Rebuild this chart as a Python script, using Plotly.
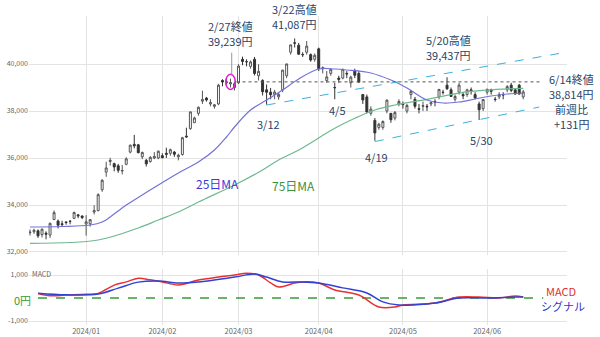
import plotly.graph_objects as go

# ---------------- data ----------------
dates = ["12/12","12/13","12/14","12/15","12/18","12/19","12/20","12/21","12/22","12/25","12/26","12/27","12/28","12/29",
         "1/4","1/5","1/9","1/10","1/11","1/12","1/15","1/16","1/17","1/18","1/19","1/22","1/23","1/24","1/25","1/26","1/29","1/30","1/31",
         "2/1","2/2","2/5","2/6","2/7","2/8","2/9","2/13","2/14","2/15","2/16","2/19","2/20","2/21","2/22","2/26","2/27","2/28","2/29",
         "3/1","3/4","3/5","3/6","3/7","3/8","3/11","3/12","3/13","3/14","3/15","3/18","3/19","3/21","3/22","3/25","3/26","3/27","3/28","3/29",
         "4/1","4/2","4/3","4/4","4/5","4/8","4/9","4/10","4/11","4/12","4/15","4/16","4/17","4/18","4/19","4/22","4/23","4/24","4/25","4/26","4/30",
         "5/1","5/2","5/7","5/8","5/9","5/10","5/13","5/14","5/15","5/16","5/17","5/20","5/21","5/22","5/23","5/24","5/27","5/28","5/29","5/30","5/31",
         "6/3","6/4","6/5","6/6","6/7","6/10","6/11","6/12","6/13","6/14"]

opens = [32820,32860,32900,32740,32800,32720,33380,33320,33200,33280,33310,33430,33580,33530,
         33193,33200,33700,33760,34650,35400,35850,35760,35670,35450,35730,36250,36580,36560,36050,35900,35850,36000,36000,
         36100,36200,36200,36250,36050,36150,36930,37250,37500,37900,38420,38550,38300,38200,38300,39300,39200,39150,39000,
         39200,40200,40100,39900,40200,39500,39300,38900,38800,38700,38600,38900,39500,40500,40900,40800,40400,40500,40400,40200,
         40646,39800,39300,39600,39000,39400,39400,39600,39200,39700,39600,38700,38600,37900,37600,37300,37300,38000,37900,37700,38300,
         38300,38000,38700,38500,38100,38200,38200,38300,38400,38600,38800,39100,38900,38500,38800,38700,38700,38900,38700,38300,38100,
         38800,38900,38500,38600,38700,38900,39100,38900,39100,38600]
highs = [32960,32990,32960,33000,32880,33250,33770,33380,33330,33300,33340,33720,33610,33560,
         33568,33400,33990,34500,35100,35840,36008,35800,35750,35700,36030,36570,36984,36600,36270,35960,36080,36250,36320,
         36200,36440,36400,36300,36180,36900,37290,37960,37760,38190,38865,38600,38500,38300,39156,39350,39426,39380,39250,
         39990,40314,40200,40150,40300,39989,39350,39130,38980,38900,38800,39750,40010,40815,41087,40900,40500,40979,40450,40450,
         40697,39900,39700,39800,39200,39500,39800,39700,39500,39800,39700,38700,38700,38200,37700,37500,37600,38500,37900,38000,38500,
         38400,38300,38900,38600,38300,38400,38300,38400,38500,38900,38900,39437,39000,38700,39200,38800,38950,39000,38800,38400,38500,
         38950,38950,38600,38800,38800,39100,39200,38950,39150,38900]
lows = [32700,32770,32600,32620,32540,32600,33370,33000,33080,33160,33180,33400,33440,33400,
        32693,33080,33600,33730,34560,35200,35680,35430,35370,35300,35690,36200,36410,36200,35950,35640,35800,35950,35950,
        35990,36000,36100,36050,35900,36100,36870,37200,37500,37800,38300,38400,38200,38100,38250,39050,39100,39000,38880,
        39150,39950,39900,39800,39512,39300,38660,38271,38500,38500,38480,38800,39400,40400,40700,40400,40300,40400,40100,40100,
        39700,39600,39200,39500,38500,39200,39350,39400,39000,39400,39200,38300,37900,37800,36733,37200,37200,37900,37500,37600,38200,
        38100,37900,38500,38100,37900,38000,38000,38200,38200,38500,38700,38900,38600,38400,38700,38500,38600,38700,38500,37617,38000,
        38700,38700,38400,38500,38500,38800,38800,38700,38700,38500]
closes = [32843,32926,32686,32970,32758,33219,33675,33140,33169,33254,33305,33681,33540,33464,
          33288,33377,33763,34441,35049,35577,35901,35619,35477,35466,35963,36546,36517,36226,36236,35751,36026,36065,36287,
          36011,36158,36354,36160,36119,36863,36897,37963,37703,38157,38487,38470,38363,38262,39098,39233,39239,39208,39166,
          39910,40109,40097,40090,39598,39688,38820,38797,38695,38807,38707,39740,40003,40815,40888,40414,40398,40762,40168,40369,
          39803,39838,39451,39773,38992,39347,39773,39581,39442,39523,39232,38471,37961,38079,37068,37438,37552,38460,37628,37934,38405,
          38274,38236,38835,38202,38073,38229,38179,38356,38385,38920,38787,38946,38617,38617,39103,38646,38900,38855,38556,38054,38487,
          38923,38837,38490,38703,38683,39038,38876,38720,38720,38814]

# moving averages read at sample trading days (day number from 12/12)
ma25_day = [0, 8, 15, 18, 20, 24, 28, 32, 37, 42, 46, 49, 51, 55, 59, 63, 67, 72, 76, 79, 85, 90, 94, 99, 103, 107, 111, 115, 119, 123]
ma25_val = [33064, 33085, 33149, 33277, 33489, 34000, 34426, 34851, 35362, 35830, 36340, 36894, 37319, 38043, 38468,
            38894, 39362, 39787, 39787, 39745, 39617, 39319, 38979, 38468, 38340, 38383, 38511, 38638, 38723, 38766]
ma75_day = [0, 17, 27, 32, 37, 42, 51, 58, 62, 67, 76, 81, 86, 91, 99, 109, 114, 123]
ma75_val = [32370, 32511, 33021, 33362, 33702, 34128, 34851, 35489, 35915, 36340, 37264, 37689, 38043, 38255, 38498, 38821, 38894, 38966]

# MACD panel
macd_day = [2, 5, 9, 14, 17, 21, 24, 27, 30, 33, 37, 42, 47, 51, 54, 57, 60, 62, 66, 68, 72, 76, 82, 87, 91, 93, 101, 107, 112, 117, 121, 123]
macd_val = [200, 100, 130, 160, 200, 560, 700, 860, 790, 700, 570, 780, 910, 1000, 1080, 1000, 660, 480, 650, 700, 650, 350,
            130, -390, -390, -300, -220, 40, 40, 0, 90, 40]
sig_day = [2, 9, 17, 22, 27, 32, 37, 42, 51, 56, 59, 63, 68, 72, 78, 84, 88, 92, 101, 107, 114, 121, 123]
sig_val = [210, 140, 170, 430, 690, 740, 650, 700, 910, 1040, 910, 700, 700, 650, 440, 220, -170, -300, -220, 0, 0, 40, 40]

# trend channel (day, value) pairs and reference level
upper_ch_day = [59, 135]
upper_ch_val = [38255, 40540]
lower_ch_day = [86, 127]
lower_ch_val = [36700, 38170]
ref_level_day = [51.5, 127.5]
ref_level_val = [39239, 39239]

month_labels = ["2024/01", "2024/02", "2024/03", "2024/04", "2024/05", "2024/06"]
month_first = ["1/4", "2/1", "3/1", "4/1", "5/1", "6/3"]
price_ticks = [32000, 34000, 36000, 38000, 40000]
macd_ticks = [-1000, 1000]

# ---------------- figure ----------------
W, H = 600, 337
ML, MR, MT, MB = 29, 33, 16, 12
PW, PH = W - ML - MR, H - MT - MB
XMIN = -0.25
XMAX = XMIN + PW / 4.01

FONT = "Noto Sans CJK JP, Noto Sans, sans-serif"
TXT = "#2b4468"
GRID = "#e3e3e3"

xs = list(range(len(dates)))
tickpos = [dates.index(d) for d in month_first]

fig = go.Figure()
fig.add_trace(go.Candlestick(
    x=xs, open=opens, high=highs, low=lows, close=closes,
    increasing=dict(line=dict(color="#555555", width=1), fillcolor="#ffffff"),
    decreasing=dict(line=dict(color="#333333", width=1), fillcolor="#333333"),
    whiskerwidth=0, xaxis="x", yaxis="y", showlegend=False, hoverinfo="skip"))

fig.add_trace(go.Scatter(x=ma75_day, y=ma75_val, mode="lines", line=dict(color="#6fb890", width=1.2, shape="spline"),
                         xaxis="x", yaxis="y", showlegend=False))
fig.add_trace(go.Scatter(x=ma25_day, y=ma25_val, mode="lines", line=dict(color="#7272d8", width=1.2, shape="spline"),
                         xaxis="x", yaxis="y", showlegend=False))

fig.add_trace(go.Scatter(x=ref_level_day, y=ref_level_val, mode="lines", line=dict(color="#555555", width=1, dash="dot"),
                         xaxis="x", yaxis="y", showlegend=False))
fig.add_trace(go.Scatter(x=upper_ch_day, y=upper_ch_val, mode="lines", line=dict(color="#3db2dc", width=1, dash="dash"),
                         xaxis="x", yaxis="y", showlegend=False))
fig.add_trace(go.Scatter(x=lower_ch_day, y=lower_ch_val, mode="lines", line=dict(color="#3db2dc", width=1, dash="dash"),
                         xaxis="x", yaxis="y", showlegend=False))

# MACD panel
fig.add_trace(go.Scatter(x=[2, 128], y=[0, 0], mode="lines", line=dict(color="#3a9a3a", width=1.5, dash="dash"),
                         xaxis="x2", yaxis="y2", showlegend=False))
fig.add_trace(go.Scatter(x=macd_day, y=macd_val, mode="lines", line=dict(color="#e83232", width=1.5, shape="spline"),
                         xaxis="x2", yaxis="y2", showlegend=False))
fig.add_trace(go.Scatter(x=sig_day, y=sig_val, mode="lines", line=dict(color="#3040d8", width=1.5, shape="spline"),
                         xaxis="x2", yaxis="y2", showlegend=False))

def pp(px, py):
    return (px - ML) / PW, (H - MB - py) / PH

def ann(text, px, py, size, color):
    x, y = pp(px, py)
    return dict(text=text, x=x, y=y, xref="paper", yref="paper", xanchor="center", yanchor="middle",
                showarrow=False, font=dict(family=FONT, size=size, color=color))

annotations = [
    ann("2/27終値", 230, 26, 11, TXT), ann("39,239円", 230, 41, 11, TXT),
    ann("3/22高値", 294, 9, 11, TXT), ann("41,087円", 294, 24, 11, TXT),
    ann("5/20高値", 448, 40, 11, TXT), ann("39,437円", 448, 55, 11, TXT),
    ann("6/14終値", 571, 79, 11, TXT), ann("38,814円", 571, 94, 11, TXT),
    ann("前週比", 571, 109, 11, TXT), ann("+131円", 571, 124, 11, TXT),
    ann("3/12", 268, 124, 11, TXT),
    ann("4/5", 337, 110, 11, TXT),
    ann("4/19", 376, 157, 11, TXT),
    ann("5/30", 481, 140, 11, TXT),
    ann("25日MA", 217, 183, 12, "#3b3bd6"),
    ann("75日MA", 293, 185, 12, "#3d8f3d"),
    ann("MACD", 561, 291, 11, "#e03030"),
    ann("シグナル", 563, 306, 11, "#3333cc"),
    ann("MACD", 41, 274, 7, "#666666"),
    ann("0円", 22, 299.5, 11, "#3a9a3a"),
]

circle_day = dates.index("2/28")
shapes = [
    dict(type="circle", xref="x", yref="y", x0=circle_day - 1.2, x1=circle_day + 1.2, y0=39239 - 320, y1=39239 + 320,
         line=dict(color="#e020d0", width=1.5)),
    dict(type="line", xref="x", yref="y", x0=circle_day + 0.3, x1=circle_day + 0.3, y0=39239 + 320, y1=40480,
         line=dict(color="#999999", width=1)),
]

fig.update_layout(
    width=W, height=H, margin=dict(l=ML, r=MR, t=MT, b=MB, autoexpand=False),
    paper_bgcolor="white", plot_bgcolor="white",
    font=dict(family=FONT, size=7, color="#666666"),
    annotations=annotations, shapes=shapes, showlegend=False,
    xaxis=dict(domain=[0, 1], range=[XMIN, XMAX], tickvals=tickpos, showticklabels=False,
               showgrid=True, gridcolor=GRID, gridwidth=1, zeroline=False, rangeslider=dict(visible=False),
               anchor="y", automargin=False),
    yaxis=dict(domain=[(325 - 255) / PH, 1],
               range=[31872, 42043], tickvals=price_ticks, ticktext=[f"{v:,}" for v in price_ticks],
               showgrid=True, gridcolor=GRID, zeroline=False, tickfont=dict(size=7, color="#666666"),
               ticks="", anchor="x", automargin=False),
    xaxis2=dict(domain=[0, 1], range=[XMIN, XMAX], tickvals=tickpos, ticktext=month_labels,
                showgrid=True, gridcolor=GRID, zeroline=False, tickfont=dict(size=7.5, color="#666666"),
                ticks="", anchor="y2", matches="x", automargin=False),
    yaxis2=dict(domain=[0, (325 - 269) / PH], range=[-1174, 1261], tickvals=macd_ticks,
                ticktext=[f"{v:,}" for v in macd_ticks], showgrid=True, gridcolor=GRID, zeroline=False,
                tickfont=dict(size=7, color="#666666"), ticks="", anchor="x2", automargin=False),
)

fig.write_html("out.html")
